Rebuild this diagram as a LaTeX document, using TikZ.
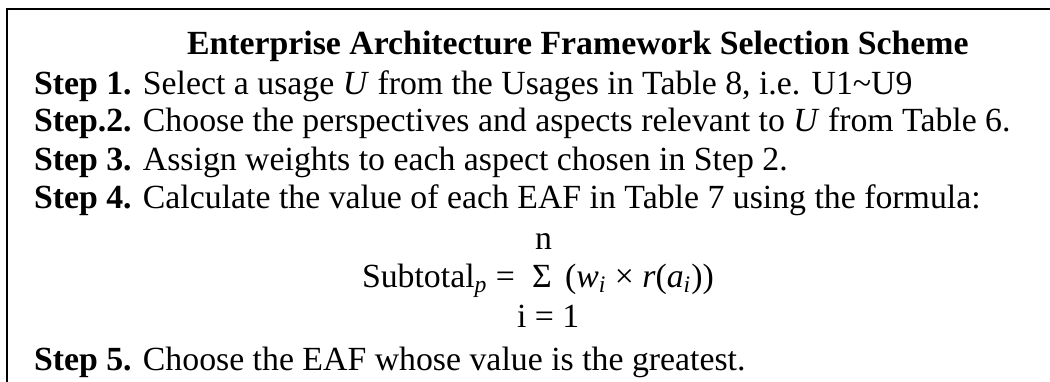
\documentclass[tikz,border=0pt]{standalone}
\usepackage{fontspec}
\setmainfont{Liberation Serif}
\begin{document}
\begin{tikzpicture}[x=0.5pt,y=-0.5pt,
  txt/.style={anchor=base west,inner sep=0pt,outer sep=0pt,font=\fontsize{16.9}{20}\selectfont},
  frameline/.style={line width=1.25pt,line cap=rect}]
\useasboundingbox (0,0) rectangle (1050,381);
\coordinate (bl) at (7,381);
\coordinate (tl) at (7,9);
\coordinate (tr) at (1050,9);
\draw[frameline] (bl) -- (tl) -- (tr);
\node[txt] (title) at (187,54) {\textbf{Enterprise Architecture Framework Selection Scheme}};
\node[txt] (s1) at (34,94) {\textbf{Step 1.} Select a usage \textit{U} from the Usages in Table 8, i.e. U1\textasciitilde U9};
\node[txt] (s2) at (34,131) {\textbf{Step.2.} Choose the perspectives and aspects relevant to \textit{U} from Table 6.};
\node[txt] (s3) at (34,170) {\textbf{Step 3.} Assign weights to each aspect chosen in Step 2.};
\node[txt] (s4) at (34,208) {\textbf{Step 4.} Calculate the value of each EAF in Table 7 using the formula:};
\node[txt] (n) at (535,249) {n};
\node[txt] (sub) at (362,287) {Subtotal\textsubscript{\textit{p}} =};
\node[txt] (sig) at (532,287) {Σ};
\node[txt] (expr) at (565,287) {(\textit{w}\textsubscript{\textit{i}} × \textit{r}(\textit{a}\textsubscript{\textit{i}}))};
\node[txt] (i1) at (517,327) {i = 1};
\node[txt] (s5) at (34,370) {\textbf{Step 5.} Choose the EAF whose value is the greatest.};
\end{tikzpicture}
\end{document}
